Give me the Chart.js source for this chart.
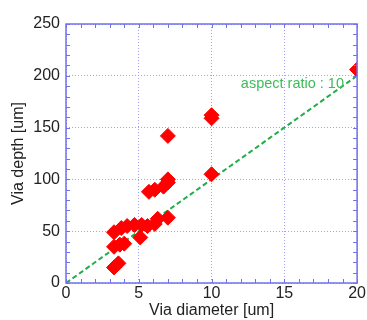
<!DOCTYPE html>
<html>
<head>
<meta charset="utf-8">
<script src="https://cdn.jsdelivr.net/npm/chart.js@4/dist/chart.umd.min.js"></script>
<style>
  html, body { margin: 0; padding: 0; background: #fff; }
  #wrap { width: 367px; height: 320px; }
</style>
</head>
<body>
<div id="wrap"><canvas id="viaChart"></canvas></div>
<script>
// diametro / profundidade das vias
const viaDiameter = [3.3, 3.6, 3.3, 3.7, 4.0, 3.3, 3.8, 4.2, 4.7, 5.1, 5.2, 5.6, 6.1, 6.3, 7.0, 5.7, 6.1, 6.7, 7.0, 7.0, 7.0, 10.0, 10.0, 10.0, 20.0];
const viaDepth    = [15, 19, 35, 37, 38, 49, 53, 55, 56, 44, 56, 55, 57, 62, 63, 88, 90, 93, 97, 100, 142, 105, 159, 162, 206];

// linha de referencia (aspect ratio 10)
const refX = [0, 20];
const refY = [0, 200];
const refLabel = 'aspect ratio : 10';

const xTicks = [0, 5, 10, 15, 20];
const yTicks = [0, 50, 100, 150, 200, 250];

const axisBlue = '#7070f0';
const fontFam = '"Liberation Sans", Arial, sans-serif';

// desenha a caixa, os ticks internos e o texto da reta
const boxPlugin = {
    id: 'boxPlugin',
    afterDraw(chart) {
        const ctx = chart.ctx;
        const a = chart.chartArea;
        const sx = chart.scales.x;
        const sy = chart.scales.y;
        ctx.save();
        ctx.strokeStyle = axisBlue;
        ctx.lineWidth = 1.5;
        ctx.strokeRect(a.left, a.top, a.right - a.left, a.bottom - a.top);
        ctx.lineWidth = 1;
        ctx.beginPath();
        for (let v = xTicks[0]; v <= xTicks[xTicks.length - 1]; v += 1) {
            const px = Math.round(sx.getPixelForValue(v)) + 0.5;
            ctx.moveTo(px, a.bottom); ctx.lineTo(px, a.bottom - 4);
            ctx.moveTo(px, a.top); ctx.lineTo(px, a.top + 4);
        }
        for (let v = yTicks[0]; v <= yTicks[yTicks.length - 1]; v += 10) {
            const py = Math.round(sy.getPixelForValue(v)) + 0.5;
            ctx.moveTo(a.left, py); ctx.lineTo(a.left + 4, py);
            ctx.moveTo(a.right, py); ctx.lineTo(a.right - 4, py);
        }
        ctx.stroke();

        ctx.fillStyle = '#3cbc5a';
        ctx.font = '14.5px ' + fontFam;
        ctx.textAlign = 'right';
        ctx.textBaseline = 'middle';
        ctx.fillText(refLabel, sx.getPixelForValue(19.1), sy.getPixelForValue(192));
        ctx.restore();
    }
};

const points = viaDiameter.map((x, i) => ({ x: x, y: viaDepth[i] }));
const refLine = refX.map((x, i) => ({ x: x, y: refY[i] }));

const ctx = document.getElementById('viaChart').getContext('2d');
new Chart(ctx, {
    type: 'scatter',
    data: {
        datasets: [
            {
                label: 'vias',
                data: points,
                pointStyle: 'rectRot',
                pointRadius: 7.5,
                pointHoverRadius: 7.5,
                backgroundColor: '#ff0000',
                borderColor: '#ff0000',
                borderWidth: 1
            },
            {
                label: refLabel,
                type: 'line',
                data: refLine,
                borderColor: '#1fae4a',
                borderWidth: 2,
                borderDash: [5, 3],
                pointRadius: 0,
                fill: false
            }
        ]
    },
    options: {
        responsive: true,
        maintainAspectRatio: false,
        animation: false,
        layout: { padding: { top: 24, right: 9, left: 0, bottom: 0 } },
        plugins: {
            legend: { display: false },
            tooltip: { enabled: false }
        },
        scales: {
            x: {
                type: 'linear',
                min: 0,
                max: 20,
                afterBuildTicks: (s) => { s.ticks = xTicks.map(v => ({ value: v })); },
                afterFit: (s) => { s.height = 37; },
                ticks: {
                    color: '#222',
                    font: { size: 16, family: fontFam },
                    padding: 1,
                    maxRotation: 0
                },
                grid: { color: '#a0a0f0', drawTicks: false, lineWidth: 1 },
                border: { display: false, dash: [1, 2] },
                title: {
                    display: true,
                    text: 'Via diameter [um]',
                    color: '#222',
                    font: { size: 16, family: fontFam },
                    padding: { top: 1, bottom: 0 }
                }
            },
            y: {
                type: 'linear',
                min: 0,
                max: 250,
                afterBuildTicks: (s) => { s.ticks = yTicks.map(v => ({ value: v })); },
                afterFit: (s) => { s.width = 66; },
                ticks: {
                    color: '#222',
                    font: { size: 16, family: fontFam },
                    padding: 6
                },
                grid: { color: '#a0a0f0', drawTicks: false, lineWidth: 1 },
                border: { display: false, dash: [1, 2] },
                title: {
                    display: true,
                    text: 'Via depth [um]',
                    color: '#222',
                    font: { size: 16, family: fontFam },
                    padding: { top: 9, bottom: 0 }
                }
            }
        }
    },
    plugins: [boxPlugin]
});
</script>
</body>
</html>
